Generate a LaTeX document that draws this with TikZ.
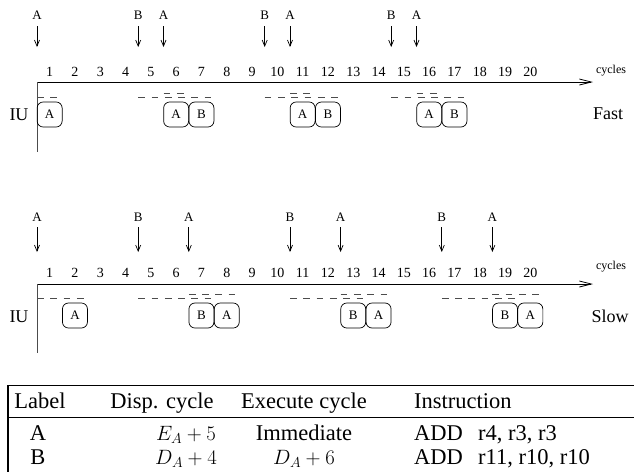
\documentclass[tikz,border=0pt]{standalone}
\usepackage[no-math]{fontspec}
\setmainfont{Liberation Serif}
\usetikzlibrary{arrows.meta}

\newcommand\bnd[1]{(37+25.3*(#1))}

\begin{document}
\begin{tikzpicture}[x=1pt,y=-1pt,
  axis/.style={line width=0.9pt, -{Straight Barb[length=12pt,width=6pt,line width=0.8pt]}},
  iuline/.style={line width=0.9pt, black!70},
  disp/.style={line width=0.7pt, -{Straight Barb[length=6pt,width=5pt,line width=0.7pt]}},
  wait/.style={line width=0.9pt, black!70, dash pattern=on 6.7pt off 6.6pt},
  slot/.style={draw, rounded corners=6pt, minimum width=25pt, minimum height=25pt,
    inner sep=0pt, line width=0.7pt, font=\fontsize{13}{15}\selectfont},
  tick/.style={inner sep=0pt, font=\fontsize{14}{16}\selectfont},
  evt/.style={inner sep=0pt, font=\fontsize{13}{15}\selectfont},
  unit/.style={inner sep=0pt, font=\fontsize{12}{14}\selectfont},
  lab/.style={inner sep=0pt, font=\fontsize{18}{20}\selectfont},
  cell/.style={inner sep=0pt, anchor=base, font=\fontsize{22.5}{27}\selectfont},
  lcell/.style={cell, anchor=base west},
  rule/.style={line width=1.4pt},
  thinrule/.style={line width=1pt}
]
\useasboundingbox (0,0) rectangle (634,472);

% ---------------- Fast unit ----------------
\coordinate (f-o) at (37,82);
\coordinate (f-end) at (593,82);
\coordinate (f-bot) at (37,152);
\draw[axis] (f-o) -- (f-end);
\draw[iuline] (f-o) -- (f-bot);
\node[unit] (f-cyc) at (611,71) {cycles};
\foreach \n in {1,...,20}
  \node[tick] (f-n\n) at ({37+25.3*(\n-0.5)},72) {\n};
\node[lab] (f-iu) at (19,115) {IU};
\node[lab] (f-mode) at (608,114) {Fast};

\foreach \l/\k [count=\i] in {A/0,B/4,A/5,B/9,A/10,B/14,A/15} {
  \node[evt] (f-ev\i) at ({\bnd{\k}},15) {\l};
  \coordinate (f-tip\i) at ({\bnd{\k}},47);
  \draw[disp] ([yshift=-7pt]f-ev\i.south) -- (f-tip\i);
}

% waiting intervals
\draw[wait] (37,97) -- ({\bnd{1}},97);
\foreach \k in {4,9,14} {
  \draw[wait] ({\bnd{\k}},97) -- ({\bnd{\k+3}},97);
  \draw[wait] ({\bnd{\k+1}},93) -- ({\bnd{\k+2}},93);
}

% issued instructions
\node[slot] (f-a1) at ({\bnd{0.5}},114.5) {A};
\node[slot] (f-a2) at ({\bnd{5.5}},114.5) {A};
\node[slot] (f-b2) at ({\bnd{6.5}},114.5) {B};
\node[slot] (f-a3) at ({\bnd{10.5}},114.5) {A};
\node[slot] (f-b3) at ({\bnd{11.5}},114.5) {B};
\node[slot] (f-a4) at ({\bnd{15.5}},114.5) {A};
\node[slot] (f-b4) at ({\bnd{16.5}},114.5) {B};

% ---------------- Slow unit ----------------
\coordinate (s-o) at (37,284);
\coordinate (s-end) at (593,284);
\coordinate (s-bot) at (37,353);
\draw[axis] (s-o) -- (s-end);
\draw[iuline] (s-o) -- (s-bot);
\node[unit] (s-cyc) at (611,267) {cycles};
\foreach \n in {1,...,20}
  \node[tick] (s-n\n) at ({37+25.3*(\n-0.5)},273) {\n};
\node[lab] (s-iu) at (19,317) {IU};
\node[lab] (s-mode) at (610,316) {Slow};

\foreach \l/\k [count=\i] in {A/0,B/4,A/6,B/10,A/12,B/16,A/18} {
  \node[evt] (s-ev\i) at ({\bnd{\k}},217) {\l};
  \coordinate (s-tip\i) at ({\bnd{\k}},252);
  \draw[disp] ([yshift=-6pt]s-ev\i.south) -- (s-tip\i);
}

\draw[wait] (37,298) -- ({\bnd{2}},298);
\foreach \k in {4,10,16} {
  \draw[wait] ({\bnd{\k}},298) -- ({\bnd{\k+3}},298);
  \draw[wait] ({\bnd{\k+2}},294) -- ({\bnd{\k+4}},294);
}

\node[slot] (s-a1) at ({\bnd{1.5}},315.5) {A};
\node[slot] (s-b2) at ({\bnd{6.5}},315.5) {B};
\node[slot] (s-a2) at ({\bnd{7.5}},315.5) {A};
\node[slot] (s-b3) at ({\bnd{12.5}},315.5) {B};
\node[slot] (s-a3) at ({\bnd{13.5}},315.5) {A};
\node[slot] (s-b4) at ({\bnd{18.5}},315.5) {B};
\node[slot] (s-a4) at ({\bnd{19.5}},315.5) {A};

% ---------------- Instruction table ----------------
\draw[rule] (8,385.5) -- (634,385.5);
\draw[thinrule] (8,417) -- (634,417);
\draw[rule] (8,385) -- (8,472);

\node[cell] (h-lab) at (40,408) {Label};
\node[cell] (h-disp) at (162,408) {Disp. cycle};
\node[cell] (h-exec) at (304,408) {Execute cycle};
\node[lcell] (h-ins) at (414,408) {Instruction};

\node[cell] (a-lab) at (38,440) {A};
\node[cell] (a-disp) at (186,440) {$E_A+5$};
\node[cell] (a-exec) at (304,440) {Immediate};
\node[lcell] (a-op) at (414,440) {ADD};
\node[lcell] (a-reg) at (478,440) {r4, r3, r3};

\node[cell] (b-lab) at (38,464) {B};
\node[cell] (b-disp) at (186,464) {$D_A+4$};
\node[cell] (b-exec) at (304,464) {$D_A+6$};
\node[lcell] (b-op) at (414,464) {ADD};
\node[lcell] (b-reg) at (478,464) {r11, r10, r10};
\end{tikzpicture}
\end{document}
